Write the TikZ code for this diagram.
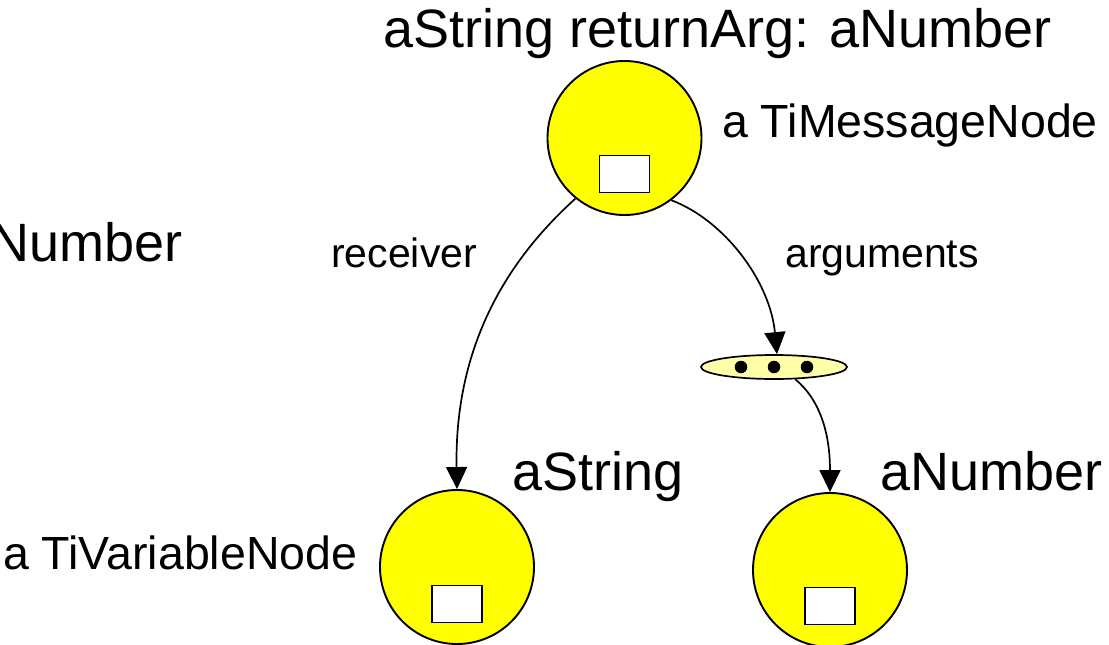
\documentclass[tikz,border=0pt]{standalone}
\usepackage{fontspec}
\setmainfont{Liberation Sans}
\usetikzlibrary{shapes.geometric,arrows.meta}
\definecolor{objyellow}{RGB}{255,255,0}
\definecolor{collyellow}{RGB}{255,255,170}
\tikzset{
  obj/.style={circle, draw, fill=objyellow, line width=1.9pt, minimum size=154pt, inner sep=0pt},
  slot/.style={rectangle, draw, fill=white, line width=1.9pt, minimum width=50pt, minimum height=37pt, inner sep=0pt},
  coll/.style={ellipse, draw, fill=collyellow, line width=1.7pt, minimum width=146pt, minimum height=24pt, inner sep=0pt},
  blackdot/.style={circle, fill=black, minimum size=12.5pt, inner sep=0pt},
  link/.style={line width=1.7pt, -{Triangle[length=22pt,width=21pt]}},
  bigtext/.style={inner sep=0pt, anchor=base west, font=\fontsize{54}{60}\selectfont},
  midtext/.style={inner sep=0pt, anchor=base west, font=\fontsize{46.5}{52}\selectfont},
  smalltext/.style={inner sep=0pt, anchor=base west, font=\fontsize{41}{46}\selectfont},
}
\begin{document}
\begin{tikzpicture}[x=1pt, y=-1pt]
\useasboundingbox (0,0) rectangle (1109,645);

% message send object and its argument collection
\node[obj] (msg) at (624.5,138) {};
\node[slot] (msgslot) at ([yshift=-36pt]msg.center) {};
\node[coll] (args) at (774,367) {};
\node[blackdot] (d1) at (741,367) {};
\node[blackdot] (d2) at (774,367) {};
\node[blackdot] (d3) at (807,367) {};

% receiver and argument variables
\node[obj] (recv) at (457,567) {};
\node[slot] (recvslot) at ([yshift=-37pt]recv.center) {};
\node[obj] (argn) at (830,570) {};
\node[slot] (argnslot) at ([yshift=-36pt]argn.center) {};

% labels
\node[bigtext] (title) at (383,47) {aString returnArg: aNumber};
\node[midtext] (msglabel) at (722,137) {a TiMessageNode};
\node[bigtext, anchor=base east] (leftnum) at (183,261) {Number};
\node[smalltext] (recvlabel) at (331,267) {receiver};
\node[smalltext] (argslabel) at (785,267) {arguments};
\node[bigtext] (recvname) at (512,490) {aString};
\node[bigtext] (argnname) at (880,490) {aNumber};
\node[midtext] (varlabel) at (3,569) {a TiVariableNode};

% connectors
\draw[link] (msg.231) .. controls +(-53,48) and +(-3,-159) .. (recv.north);
\draw[link] (msg.307) .. controls +(53,20) and +(-7,-73) .. ([xshift=3pt]args.north);
\draw[link] (args.-30) .. controls +(23,19) and +(0,-62) .. (argn.north);
\end{tikzpicture}
\end{document}
